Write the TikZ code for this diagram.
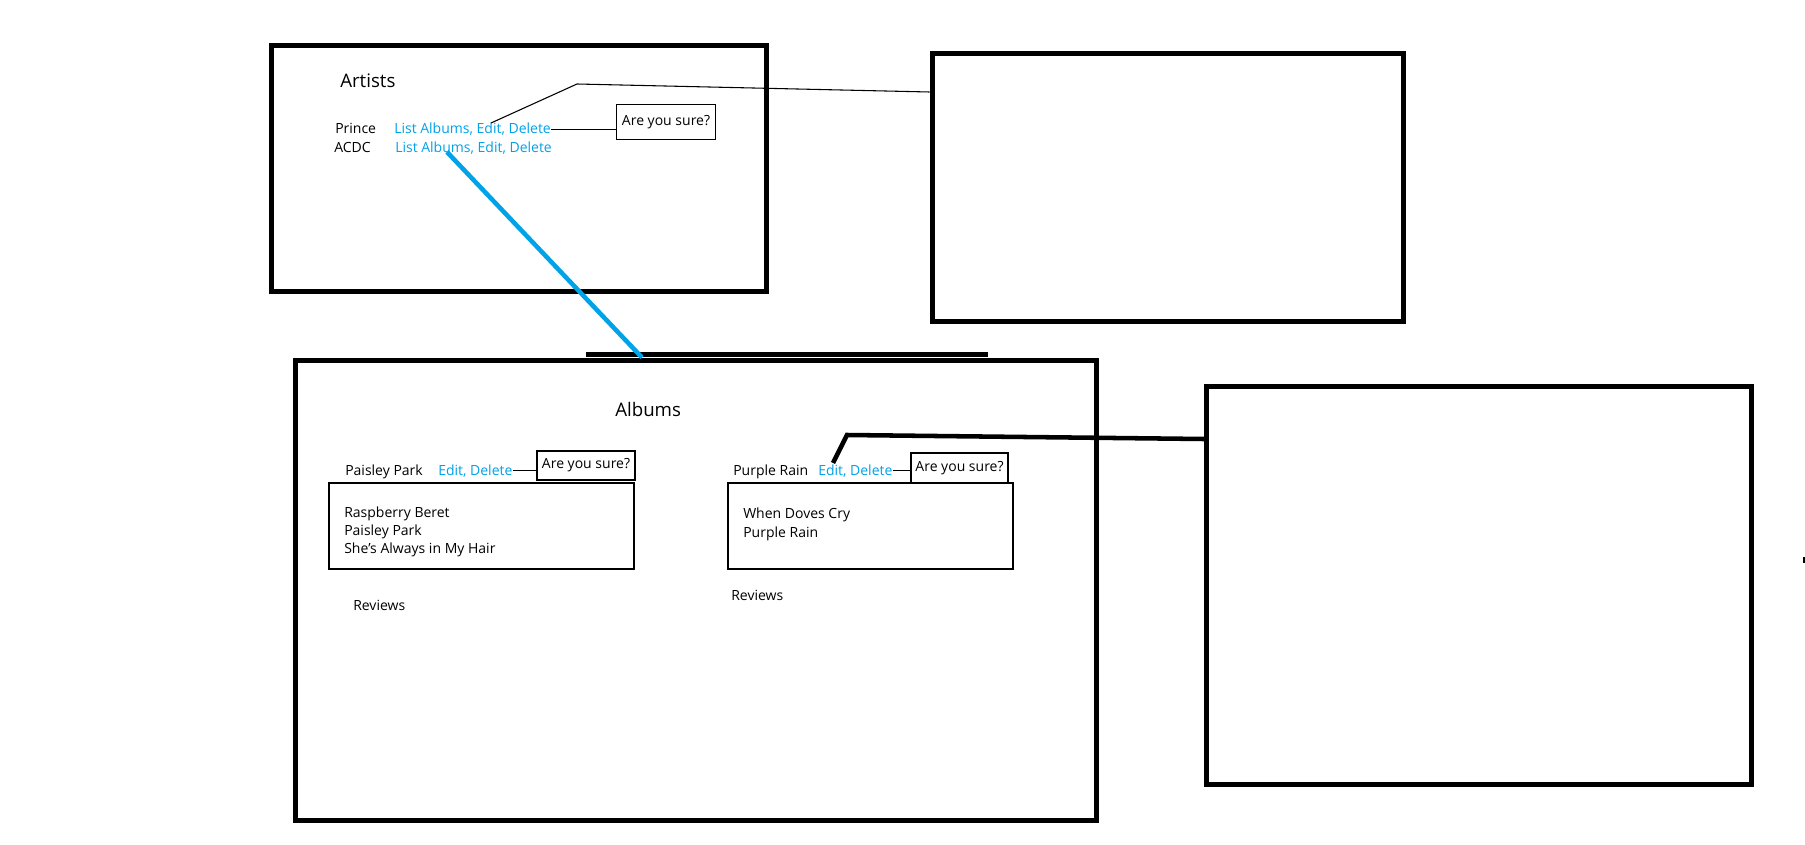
\documentclass[tikz,border=0pt]{standalone}
\usepackage{fontspec}
\setmainfont{Open Sans}
\usetikzlibrary{positioning}
\definecolor{paintblue}{RGB}{0,162,232}

\begin{document}
\begin{tikzpicture}[x=0.75pt, y=-0.75pt,
    pxsize/.style 2 args={minimum width=#1*0.75pt, minimum height=#2*0.75pt},
    pagebox/.style={draw, line width=3.75pt, inner sep=0pt},
    smallbox/.style={draw, line width=0.95pt, inner sep=0pt},
    txt/.style={inner sep=0pt, anchor=base west, font=\fontsize{10.5}{12}\selectfont},
    linktxt/.style={txt, text=paintblue},
    heading/.style={inner sep=0pt, anchor=base west, font=\fontsize{14}{16}\selectfont},
    thinlink/.style={draw, line width=0.8pt},
    boldlink/.style={draw, line width=3.4pt},
    bluelink/.style={draw=paintblue, line width=3.4pt}]

  \fill[white] (0,0) rectangle (1805,845);
  \useasboundingbox (0,0) rectangle (1805,845);

  % page frames
  \node[pagebox, pxsize={495}{246}] (artists) at (519,168.5) {};
  \node[pagebox, pxsize={471.5}{267.5}] (edita) at (1167.75,187.25) {};
  \node[pagebox, pxsize={801}{460}] (albums) at (695.5,590) {};
  \node[pagebox, pxsize={544.5}{397.5}] (editb) at (1478.75,585.25) {};
  \draw[line width=3.3pt] (586,354.5) -- (988,354.5);

  % artists page
  \node[heading] (artiststitle) at (340,88) {Artists};
  \node[txt] (prince) at (335,134) {Prince};
  \node[linktxt] (princelinks) at (394,134) {List Albums, Edit, Delete};
  \node[txt] (acdc) at (334,153) {ACDC};
  \node[linktxt] (acdclinks) at (395,153) {List Albums, Edit, Delete};
  \node[smallbox, pxsize={99}{35}, font=\fontsize{10.5}{12}\selectfont] (surea) at (666,122) {Are you sure?};
  \path[thinlink] (princelinks.east) -- (princelinks.east -| surea.west);

  % albums page
  \node[heading] (albumstitle) at (615,416) {Albums};

  \node[txt] (paisley) at (345,475) {Paisley Park};
  \node[linktxt] (paisleylinks) at (438,475) {Edit, Delete};
  \node[smallbox, pxsize={98}{29}, font=\fontsize{10.5}{12}\selectfont] (sureb) at (586,465.5) {Are you sure?};
  \path[thinlink] (paisleylinks.east) -- (paisleylinks.east -| sureb.west);
  \node[smallbox, pxsize={305}{86}] (songsa) at (481.5,526) {};
  \node[txt] (songa1) at (344,517) {Raspberry Beret};
  \node[txt] (songa2) at (344,535) {Paisley Park};
  \node[txt] (songa3) at (344,553) {She's Always in My Hair};
  \node[txt] (reviewsa) at (353,610) {Reviews};

  \node[txt] (purple) at (733,475) {Purple Rain};
  \node[linktxt] (purplelinks) at (818,475) {Edit, Delete};
  \node[smallbox, pxsize={97}{30}, font=\fontsize{10.5}{12}\selectfont] (surec) at (959.5,468) {Are you sure?};
  \path[thinlink] (purplelinks.east) -- (purplelinks.east -| surec.west);
  \node[smallbox, pxsize={285}{86}] (songsb) at (870.5,526) {};
  \node[txt] (songb1) at (743,518) {When Doves Cry};
  \node[txt] (songb2) at (743,537) {Purple Rain};
  \node[txt] (reviewsb) at (731,600) {Reviews};

  % links between pages
  \coordinate (princeedit) at (491,123);
  \coordinate (benda) at (577,84);
  \path[thinlink] (princeedit) -- (benda) -- (edita.west |- 0,92);

  \coordinate (acdclist) at (447,152);
  \path[bluelink] (acdclist) -- (albums.north -| 642,0);

  \coordinate (purpleedit) at (833,463);
  \coordinate (bendb) at (847,435);
  \path[boldlink] (purpleedit) -- (bendb) -- (editb.west |- 0,439);

  \fill (1803,557) rectangle (1805,563);
\end{tikzpicture}
\end{document}
